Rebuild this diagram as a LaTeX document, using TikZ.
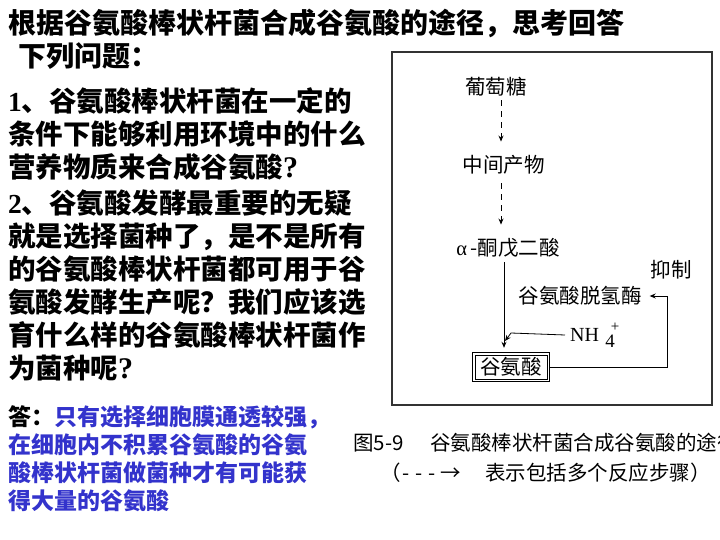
\documentclass[tikz,border=0pt]{standalone}
\usepackage{fontspec}
\setmainfont{Liberation Serif}
\newfontfamily\cjk{Noto Sans CJK SC}
\usetikzlibrary{arrows.meta,calc}
\definecolor{ansblue}{RGB}{51,51,204}
\begin{document}
\begin{tikzpicture}[x=1pt,y=-1pt,
  every node/.style={inner sep=0pt},
  big/.style={anchor=west,text height=24.6pt,text depth=3.4pt,font=\cjk\bfseries\fontsize{28}{30}\selectfont},
  qtext/.style={anchor=west,text height=24.2pt,text depth=3.3pt,font=\cjk\bfseries\fontsize{27.5}{30}\selectfont},
  ans/.style={anchor=west,text height=20.2pt,text depth=2.8pt,font=\cjk\bfseries\fontsize{23}{25}\selectfont,text=ansblue},
  lbl/.style={text height=18pt,text depth=2.5pt,font=\cjk\fontsize{20.5}{22}\selectfont},
  captxt/.style={anchor=west,text height=18pt,text depth=2.5pt,font=\cjk\fontsize{20.5}{22}\selectfont},
  flow/.style={line width=0.8pt,-{Stealth[length=6pt,width=5pt]}},
  dflow/.style={flow,dash pattern=on 6pt off 5pt},
]
\useasboundingbox (0,0) rectangle (720,540);
\clip (0,0) rectangle (720,540);
\fill[white] (0,0) rectangle (720,540);

% title and questions
\node[big] (t1) at (8,23) {根据谷氨酸棒状杆菌合成谷氨酸的途径，思考回答};
\node[big] (t2) at (18,56) {下列问题：};
\node[qtext] (q1a) at (8,101) {{\rmfamily 1}、谷氨酸棒状杆菌在一定的};
\node[qtext] (q1b) at (8,134) {条件下能够利用环境中的什么};
\node[qtext] (q1c) at (8,167) {营养物质来合成谷氨酸{\rmfamily\fontsize{30}{30}\selectfont ?}};
\node[qtext] (q2a) at (8,203) {{\rmfamily 2}、谷氨酸发酵最重要的无疑};
\node[qtext] (q2b) at (8,236) {就是选择菌种了，是不是所有};
\node[qtext] (q2c) at (8,269) {的谷氨酸棒状杆菌都可用于谷};
\node[qtext] (q2d) at (8,302) {氨酸发酵生产呢？我们应该选};
\node[qtext] (q2e) at (8,335) {育什么样的谷氨酸棒状杆菌作};
\node[qtext] (q2f) at (8,368) {为菌种呢{\rmfamily\fontsize{30}{30}\selectfont ?}};

% answer
\node[ans] (a1) at (8,417) {{\color{black}答：}只有选择细胞膜通透较强，};
\node[ans] (a2) at (8,445) {在细胞内不积累谷氨酸的谷氨};
\node[ans] (a3) at (8,473) {酸棒状杆菌做菌种才有可能获};
\node[ans] (a4) at (8,501) {得大量的谷氨酸};

% diagram frame
\draw[line width=1.3pt,black!80] (392,52) rectangle (712,405);

\node[lbl] (glu) at (496,87) {葡萄糖};
\node[lbl] (mid) at (503.5,165) {中间产物};
\node[lbl] (akg) at (508,248) {{\rmfamily α\,}-酮戊二酸};
\node[lbl] (gdh) at (580,296) {谷氨酸脱氢酶};
\node[lbl] (inh) at (671,270) {抑制};
\node[lbl,minimum width=72pt,minimum height=24pt] (gla) at (511,367) {谷氨酸};
\draw[line width=1.2pt] ([shift={(-2.5,-2.5)}]gla.north west) rectangle ([shift={(2.5,2.5)}]gla.south east);
\draw[line width=0.6pt] (gla.north west) rectangle (gla.south east);
\node[anchor=west,font=\rmfamily\fontsize{20}{22}\selectfont] (nh4) at (570,335) {NH};
\node[font=\rmfamily\fontsize{19}{20}\selectfont] (four) at (610,341) {4};
\node[font=\rmfamily\fontsize{15}{15}\selectfont] (plus) at (615,327) {+};

\coordinate (bend) at (511,333);
\coordinate (join) at (505,341);

\draw[dflow,shorten <=3pt,shorten >=13pt] ([xshift=5pt]glu.south) -- ([xshift=-2.5pt]mid.north);
\draw[dflow,shorten <=8pt,shorten >=13pt] ([xshift=-2.5pt]mid.south) -- ([xshift=-7pt]akg.north);
\draw[flow,shorten <=4pt,shorten >=7pt] ([xshift=-4pt]akg.south) -- ([xshift=-7pt]gla.north);
\draw[flow] ([xshift=2.5pt]gla.east) -| ([xshift=26pt]gdh.east) -- ([xshift=8pt]gdh.east);
\draw[flow] ([xshift=-5pt]nh4.west) -- (bend) -- (join);

% caption
\node[captxt] (c1) at (353,443) {图5-9};
\node[captxt] (c2) at (430,443) {谷氨酸棒状杆菌合成谷氨酸的途径};
\node[captxt] (c3) at (380,473) {（\hspace{2pt}-\hspace{6pt}-\hspace{6pt}-\hspace{4pt}→};
\node[captxt] (c4) at (485,473) {表示包括多个反应步骤）};
\end{tikzpicture}
\end{document}
